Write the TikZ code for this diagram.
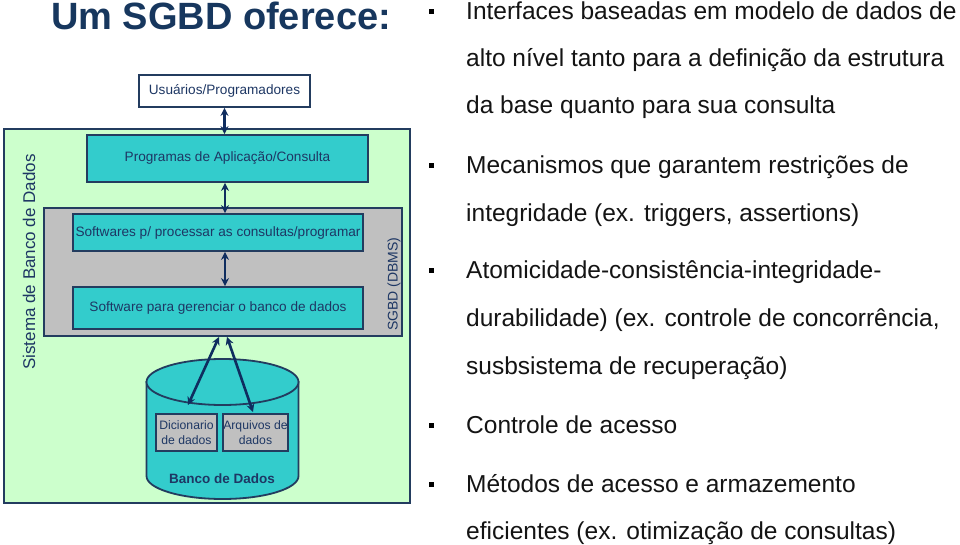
\documentclass[tikz,border=0pt]{standalone}
\usepackage{fontspec}
\setmainfont{Liberation Sans}
\usetikzlibrary{arrows.meta,calc}
\definecolor{navy}{RGB}{23,55,94}
\definecolor{boxtext}{RGB}{30,55,100}
\definecolor{framec}{RGB}{35,60,95}
\definecolor{lgreen}{RGB}{204,255,204}
\definecolor{tealc}{RGB}{51,204,204}
\definecolor{lgray}{RGB}{192,192,192}
\definecolor{arrowc}{RGB}{15,45,95}
\definecolor{bodytext}{RGB}{20,20,20}
\begin{document}
\begin{tikzpicture}[x=1pt,y=-1pt,
  box/.style={draw=framec, line width=1.8pt, rectangle, inner sep=0pt, text=boxtext,
    font=\fontsize{13.6}{16}\selectfont, align=center},
  dbl/.style={draw=arrowc, line width=2.6pt, {Stealth[length=8pt,width=8pt]}-{Stealth[length=8pt,width=8pt]}},
  bulletbox/.style={fill=black, inner sep=0pt, minimum size=5pt, rectangle},
  txtline/.style={anchor=base west, inner sep=0pt, text=bodytext, font=\fontsize{24.5}{29}\selectfont}]
\useasboundingbox (0,0) rectangle (960,545);
\fill[white] (0,0) rectangle (960,545);

% title
\node[anchor=base, inner sep=0pt, text=navy, font=\fontsize{38}{44}\selectfont\bfseries] (title) at (221,29.5) {Um SGBD oferece:};

% outer frame
\node[box, fill=lgreen, minimum width=406pt, minimum height=374pt] (sys) at (207,316) {};
\node[rotate=90, text=boxtext, inner sep=0pt, font=\fontsize{17}{20}\selectfont] (syslbl) at (29,262) {Sistema de Banco de Dados};

% users
\node[box, fill=white, minimum width=171pt, minimum height=32pt] (usr) at (224.5,91) {Usuários/Programadores};

% programs
\node[box, fill=tealc, minimum width=281pt, minimum height=47pt] (prog) at (227.5,158.5) {Programas de Aplicação/Consulta};

% SGBD gray box
\node[box, fill=lgray, minimum width=358pt, minimum height=128pt] (sgbd) at (223,272) {};
\node[rotate=90, text=boxtext, inner sep=0pt, font=\fontsize{14}{17}\selectfont] (sgbdlbl) at (394,284) {SGBD (DBMS)};
\node[box, fill=tealc, minimum width=290pt, minimum height=37pt] (proc) at (218,232.5) {Softwares p/ processar as consultas/programar};
\node[box, fill=tealc, minimum width=290pt, minimum height=42pt] (ger) at (218,308) {Software para gerenciar o banco de dados};

% cylinder
\draw[draw=framec, line width=1.8pt, fill=tealc] (146.5,382) -- (146.5,476)
  arc[start angle=180, end angle=360, x radius=76pt, y radius=23pt] -- (298.5,382) -- cycle;
\draw[draw=framec, line width=1.8pt, fill=tealc] (222.5,382) ellipse [x radius=76pt, y radius=23pt];
\node[box, fill=lgray, minimum width=61pt, minimum height=37pt, font=\fontsize{12.2}{14.5}\selectfont] (dic) at (186.5,432.5) {Dicionario\\de dados};
\node[box, fill=lgray, minimum width=61pt, minimum height=37pt, font=\fontsize{12.2}{14.5}\selectfont] (arq) at (255.5,432.5) {Arquivos de\\dados};
\node[text=boxtext, inner sep=0pt, font=\fontsize{13.5}{16}\selectfont\bfseries] (bd) at (222,479) {Banco de Dados};
\coordinate (c1) at (188,405);
\coordinate (c2) at (253,412);

% connectors
\draw[dbl] (usr.south) -- (usr.south |- prog.north);
\draw[dbl] ([xshift=-2.5pt]prog.south) -- ([xshift=-2.5pt]prog.south |- proc.north);
\draw[dbl] ([xshift=7pt]proc.south) -- ([xshift=7pt]ger.north);
\draw[dbl] (c1) -- ([xshift=-4pt]sgbd.south);
\draw[dbl] ([xshift=4pt]sgbd.south) -- (c2);

% right column
\node[bulletbox] (b1) at (431.5,12) {};
\node[txtline] (l1) at (466,20) {Interfaces baseadas em modelo de dados de};
\node[txtline] (l2) at (466,67) {alto nível tanto para a definição da estrutura};
\node[txtline] (l3) at (466,114) {da base quanto para sua consulta};
\node[bulletbox] (b2) at (431.5,166) {};
\node[txtline] (l4) at (466,174) {Mecanismos que garantem restrições de};
\node[txtline] (l5) at (466,222) {integridade (ex. triggers, assertions)};
\node[bulletbox] (b3) at (431.5,270) {};
\node[txtline] (l6) at (466,278) {Atomicidade-consistência-integridade-};
\node[txtline] (l7) at (466,326) {durabilidade) (ex. controle de concorrência,};
\node[txtline] (l8) at (466,374) {susbsistema de recuperação)};
\node[bulletbox] (b4) at (431.5,425) {};
\node[txtline] (l9) at (466,433) {Controle de acesso};
\node[bulletbox] (b5) at (431.5,484) {};
\node[txtline] (l10) at (466,492) {Métodos de acesso e armazemento};
\node[txtline] (l11) at (466,539) {eficientes (ex. otimização de consultas)};
\end{tikzpicture}
\end{document}
